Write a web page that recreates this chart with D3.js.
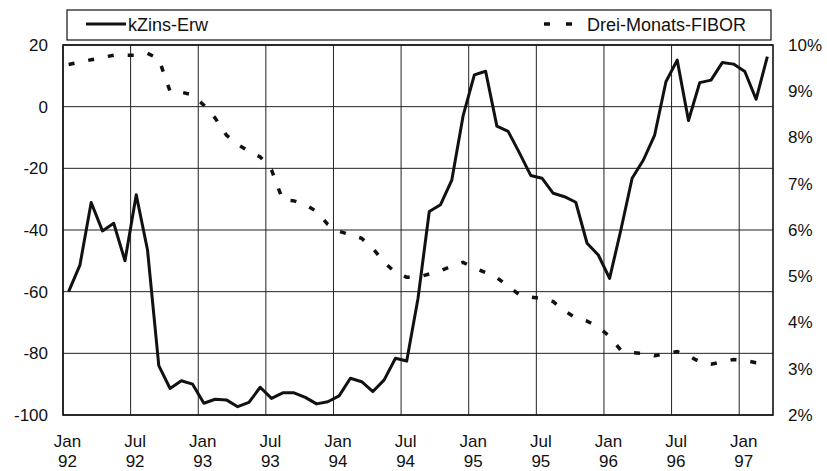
<!DOCTYPE html>
<html>
<head>
<meta charset="utf-8">
<style>
  body { margin: 0; background: #fff; }
  text { font-family: "Liberation Sans", Arial, Helvetica, sans-serif; fill: #111; }
</style>
</head>
<body>
<svg width="827" height="471"></svg>
<script src="https://d3js.org/d3.v7.min.js"></script>
<script>
// Monatswerte Jan 92 .. Mrz 97
var kzins = [
  -60, -51.4, -31.1, -40.3, -37.8, -50, -28.6, -46.5, -84, -91.4, -88.9, -90,
  -96.2, -94.9, -95.1, -97.3, -95.9, -91, -94.6, -92.8, -92.8, -94.3, -96.4, -95.7,
  -93.8, -88.1, -89.2, -92.4, -88.6, -81.6, -82.5, -62.2, -34, -31.8, -23.8, -3,
  10.3, 11.5, -6.3, -8, -15, -22.3, -23.2, -28.1, -29.2, -31, -44.3, -48.1,
  -55.7, -40, -23.2, -17.3, -9.2, 8.1, 15.1, -4.5, 7.8, 8.6, 14.3, 13.8,
  11.4, 2.4, 16.2
];
var fibor = [
  9.58, 9.63, 9.68, 9.73, 9.78, 9.78, 9.78, 9.82, 9.7, 9.0, 8.98, 8.92,
  8.7, 8.42, 8.05, 7.85, 7.7, 7.58, 7.3, 6.65, 6.63, 6.55, 6.4, 6.12,
  5.97, 5.9, 5.82, 5.6, 5.3, 5.08, 4.98, 4.98, 5.05, 5.12, 5.22, 5.3,
  5.18, 5.08, 4.97, 4.78, 4.6, 4.55, 4.52, 4.45, 4.25, 4.1, 4.03, 3.9,
  3.7, 3.4, 3.35, 3.33, 3.28, 3.33, 3.37, 3.28, 3.15, 3.1, 3.15, 3.2,
  3.18, 3.13, 3.13
];
var tickMonths = [0, 6, 12, 18, 24, 30, 36, 42, 48, 54, 60];
var tickMonthNames = ["Jan", "Jul", "Jan", "Jul", "Jan", "Jul", "Jan", "Jul", "Jan", "Jul", "Jan"];
var tickYears = ["92", "92", "93", "93", "94", "94", "95", "95", "96", "96", "97"];
var leftTicks = [20, 0, -20, -40, -60, -80, -100];
var rightTicks = [10, 9, 8, 7, 6, 5, 4, 3, 2];
var seriesNames = ["kZins-Erw", "Drei-Monats-FIBOR"];

var svg = d3.select("svg");
var plot = { left: 63, right: 773, top: 45, bottom: 415 };

var x = d3.scaleLinear().domain([0, 63]).range([plot.left, plot.right]);
var y = d3.scaleLinear().domain([-100, 20]).range([plot.bottom, plot.top]);
var y2 = d3.scaleLinear().domain([2, 10]).range([plot.bottom, plot.top]);

// gitter
var grid = svg.append("g");
grid.selectAll("line.h").data(leftTicks).enter().append("line")
  .attr("x1", plot.left).attr("x2", plot.right)
  .attr("y1", function (d) { return y(d); }).attr("y2", function (d) { return y(d); })
  .attr("stroke", "#222").attr("stroke-width", 1);
grid.selectAll("line.v").data(tickMonths).enter().append("line")
  .attr("x1", function (d) { return x(d); }).attr("x2", function (d) { return x(d); })
  .attr("y1", plot.top).attr("y2", plot.bottom)
  .attr("stroke", "#222").attr("stroke-width", 1);

// rahmen
svg.append("rect")
  .attr("x", plot.left).attr("y", plot.top)
  .attr("width", plot.right - plot.left).attr("height", plot.bottom - plot.top)
  .attr("fill", "none").attr("stroke", "#111").attr("stroke-width", 1.6);

// achsen
var axL = svg.append("g").attr("transform", "translate(" + (plot.left - 15) + ",0)")
  .call(d3.axisLeft(y).tickValues(leftTicks).tickSize(0).tickPadding(0)
    .tickFormat(function (d) { return String(d); }));
var axR = svg.append("g").attr("transform", "translate(" + (plot.right + 15) + ",0)")
  .call(d3.axisRight(y2).tickValues(rightTicks).tickSize(0).tickPadding(0)
    .tickFormat(function (d) { return d + "%"; }));
var axB = svg.append("g").attr("transform", "translate(0," + plot.bottom + ")")
  .call(d3.axisBottom(x).tickValues(tickMonths).tickSize(0).tickFormat(""));
[axL, axR, axB].forEach(function (a) {
  a.select(".domain").remove();
  a.selectAll("text").style("font-size", "17px").attr("fill", "#111")
    .style("font-family", '"Liberation Sans", Arial, sans-serif');
});
axB.selectAll(".tick").each(function (d, i) {
  var t = d3.select(this).append("text")
    .attr("x", 4).attr("text-anchor", "middle")
    .style("font-size", "17px").attr("fill", "#111");
  t.append("tspan").attr("x", 4).attr("y", 32).text(tickMonthNames[i]);
  t.append("tspan").attr("x", 4).attr("y", 52).text(tickYears[i]);
});

// linien
var line1 = d3.line().x(function (d, i) { return x(i + 0.5); }).y(function (d) { return y(d); });
var line2 = d3.line().x(function (d, i) { return x(i + 0.5); }).y(function (d) { return y2(d); });

svg.append("path").datum(fibor)
  .attr("fill", "none").attr("stroke", "#111").attr("stroke-width", 3.5)
  .attr("stroke-dasharray", "6,14")
  .attr("d", line2);
svg.append("path").datum(kzins)
  .attr("fill", "none").attr("stroke", "#111").attr("stroke-width", 3)
  .attr("stroke-linejoin", "round")
  .attr("d", line1);

// legende
var leg = svg.append("g");
leg.append("rect").attr("x", 67).attr("y", 10).attr("width", 704).attr("height", 30)
  .attr("fill", "#fff").attr("stroke", "#111").attr("stroke-width", 1.2);
leg.append("line").attr("x1", 86).attr("x2", 126).attr("y1", 24).attr("y2", 24)
  .attr("stroke", "#111").attr("stroke-width", 3);
leg.append("text").attr("x", 128).attr("y", 31).style("font-size", "18px").text(seriesNames[0]);
leg.append("line").attr("x1", 544).attr("x2", 574).attr("y1", 24).attr("y2", 24)
  .attr("stroke", "#111").attr("stroke-width", 3.5).attr("stroke-dasharray", "6,16");
leg.append("text").attr("x", 587).attr("y", 31).style("font-size", "18px").text(seriesNames[1]);
</script>
</body>
</html>
